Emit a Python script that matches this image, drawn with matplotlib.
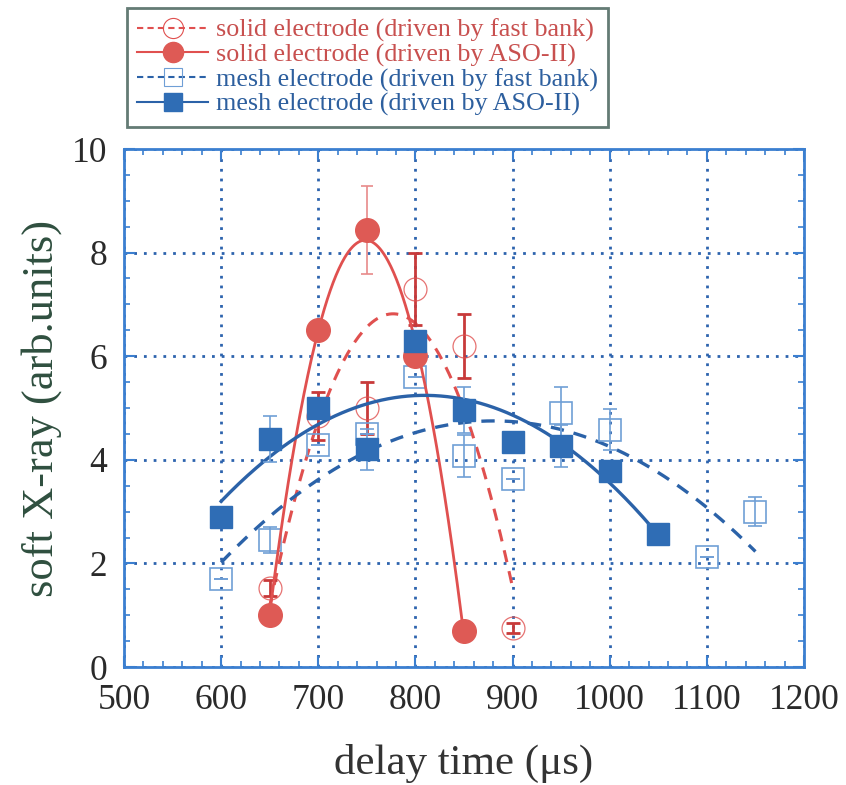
import numpy as np
import matplotlib
matplotlib.use("Agg")
import matplotlib.pyplot as plt
from matplotlib.ticker import MultipleLocator
from matplotlib.lines import Line2D

plt.rcParams['font.family'] = ['Liberation Serif', 'DejaVu Serif']

# ---- data ----
solid_fast_x = [650, 700, 750, 800, 850, 900]
solid_fast_y = [1.52, 4.85, 5.0, 7.3, 6.2, 0.75]
solid_fast_err = [0.15, 0.46, 0.5, 0.7, 0.62, 0.1]

solid_aso_x = [650, 700, 750, 800, 850]
solid_aso_y = [1.0, 6.5, 8.44, 6.0, 0.7]
solid_aso_err = [0.0, 0.0, 0.85, 0.0, 0.0]

mesh_fast_x = [600, 650, 700, 750, 800, 850, 900, 950, 1000, 1100, 1150]
mesh_fast_y = [1.7, 2.45, 4.28, 4.5, 5.6, 4.07, 3.63, 4.9, 4.58, 2.12, 3.0]
mesh_fast_err = [0.0, 0.25, 0.0, 0.0, 0.0, 0.4, 0.0, 0.5, 0.4, 0.0, 0.28]

mesh_aso_x = [600, 650, 700, 750, 800, 850, 900, 950, 1000, 1050]
mesh_aso_y = [2.9, 4.4, 5.0, 4.2, 6.3, 4.96, 4.34, 4.27, 3.78, 2.57]
mesh_aso_err = [0.0, 0.45, 0.0, 0.4, 0.0, 0.45, 0.0, 0.4, 0.0, 0.15]

labels = ["solid electrode (driven by fast bank)",
          "solid electrode (driven by ASO-II)",
          "mesh electrode (driven by fast bank)",
          "mesh electrode (driven by ASO-II)"]

x_ticks = [500, 600, 700, 800, 900, 1000, 1100, 1200]
y_ticks = [0, 2, 4, 6, 8, 10]

RED = "#e0504f"
RED_FILL = "#de5a55"
RED_ERR = "#c83a3a"
BLUE = "#2b62a8"
BLUE_FILL = "#2f6db5"
BLUE_LIGHT = "#6f9fd6"
GRID = "#2d63ae"
SPINE = "#3b7fd0"

fig = plt.figure(figsize=(8.46, 7.85), dpi=100)
ax = fig.add_axes([124/846, 1-667/785, 680/846, 518/785])

def fit_curve(x, y, deg=2):
    x = np.asarray(x, float); y = np.asarray(y, float)
    c = np.polyfit(x, y, deg)
    xs = np.linspace(x.min(), x.max(), 200)
    return xs, np.polyval(c, xs)

ms = 16.5

# solid electrode, fast bank (open circles, dashed fit)
xs, ys = fit_curve(solid_fast_x, solid_fast_y)
ax.plot(xs, ys, color=RED, lw=2.2, ls=(0, (4, 3)), zorder=3)
ax.errorbar(solid_fast_x, solid_fast_y, yerr=solid_fast_err, fmt='none',
            ecolor=RED_ERR, elinewidth=2, capsize=5, capthick=2, zorder=4)
ax.plot(solid_fast_x, solid_fast_y, 'o', ms=ms, mfc='none', mec=RED,
        mew=0.9, zorder=4, alpha=0.8)

# mesh electrode, fast bank (open squares, dashed fit)
xs, ys = fit_curve(mesh_fast_x, mesh_fast_y)
ax.plot(xs, ys, color=BLUE, lw=2.4, ls=(0, (4, 3)), zorder=3)
ax.errorbar(mesh_fast_x, mesh_fast_y, yerr=mesh_fast_err, fmt='none',
            ecolor=BLUE_LIGHT, elinewidth=1.2, capsize=5, capthick=1.2, zorder=4)
ax.plot(mesh_fast_x, mesh_fast_y, 's', ms=ms-0.5, mfc='none', mec=BLUE_LIGHT,
        mew=1.2, zorder=4)

# solid electrode, ASO-II (filled circles, solid fit)
xs, ys = fit_curve(solid_aso_x, solid_aso_y)
ax.plot(xs, ys, color=RED, lw=2.0, zorder=5)
ax.errorbar(solid_aso_x, solid_aso_y, yerr=solid_aso_err, fmt='none',
            ecolor="#e88a8a", elinewidth=1.2, capsize=4, capthick=1.2, zorder=5)
ax.plot(solid_aso_x, solid_aso_y, 'o', ms=ms+0.5, mfc=RED_FILL, mec=RED_FILL,
        zorder=6)

# mesh electrode, ASO-II (filled squares, solid fit)
xs, ys = fit_curve(mesh_aso_x, mesh_aso_y)
ax.plot(xs, ys, color=BLUE, lw=2.4, zorder=5)
ax.errorbar(mesh_aso_x, mesh_aso_y, yerr=mesh_aso_err, fmt='none',
            ecolor=BLUE_LIGHT, elinewidth=1.2, capsize=5, capthick=1.2, zorder=5)
ax.plot(mesh_aso_x, mesh_aso_y, 's', ms=ms-0.5, mfc=BLUE_FILL, mec=BLUE_FILL,
        zorder=7)

ax.set_xlim(500, 1200)
ax.set_ylim(0, 10)
ax.set_xticks(x_ticks)
ax.set_yticks(y_ticks)
ax.set_xticklabels([str(v) for v in x_ticks])
ax.set_yticklabels([str(v) for v in y_ticks])
ax.xaxis.set_minor_locator(MultipleLocator(20))
ax.yaxis.set_minor_locator(MultipleLocator(0.5))
ax.tick_params(which='both', direction='in', top=True, right=True,
               color=SPINE, labelcolor='#2a2a2a')
ax.tick_params(which='major', length=8, width=1.5, labelsize=25.5)
ax.tick_params(axis='x', which='major', pad=12)
ax.tick_params(axis='y', which='major', pad=12)
ax.tick_params(which='minor', length=4, width=1.2)
ax.grid(True, which='major', color=GRID, ls=(0, (1, 2.5)), lw=2)
for s in ax.spines.values():
    s.set_color(SPINE)
    s.set_linewidth(2)

ax.set_xlabel("delay time (\u03bcs)", fontsize=31, color='#333333', labelpad=20)
ax.set_ylabel("soft X-ray (arb.units)", fontsize=32, color='#2f4f3f', labelpad=7)

# legend
handles = [
    Line2D([], [], color=RED, ls=(0, (3, 2)), lw=1.5, marker='o', ms=14.5,
           mfc='none', mec=RED, mew=0.8),
    Line2D([], [], color=RED, ls='-', lw=1.5, marker='o', ms=14.5,
           mfc=RED_FILL, mec=RED_FILL),
    Line2D([], [], color=BLUE, ls=(0, (3, 2)), lw=1.5, marker='s', ms=13.5,
           mfc='none', mec=BLUE_LIGHT, mew=0.8),
    Line2D([], [], color=BLUE, ls='-', lw=1.5, marker='s', ms=13.5,
           mfc=BLUE_FILL, mec=BLUE_FILL),
]
leg = fig.legend(handles, labels, loc='upper left',
                 bbox_to_anchor=(127/846, 1-8/785), fontsize=18.8,
                 frameon=True, fancybox=False, handlelength=2.7,
                 handletextpad=0.3, labelspacing=0.04, borderpad=0.4,
                 borderaxespad=0)
leg.get_frame().set_edgecolor('#3d5a52')
leg.get_frame().set_linewidth(2)
for t, c in zip(leg.get_texts(), ["#c8504f", "#c8504f", "#2d5f9e", "#2d5f9e"]):
    t.set_color(c)

fig.savefig("out.png", dpi=100)
